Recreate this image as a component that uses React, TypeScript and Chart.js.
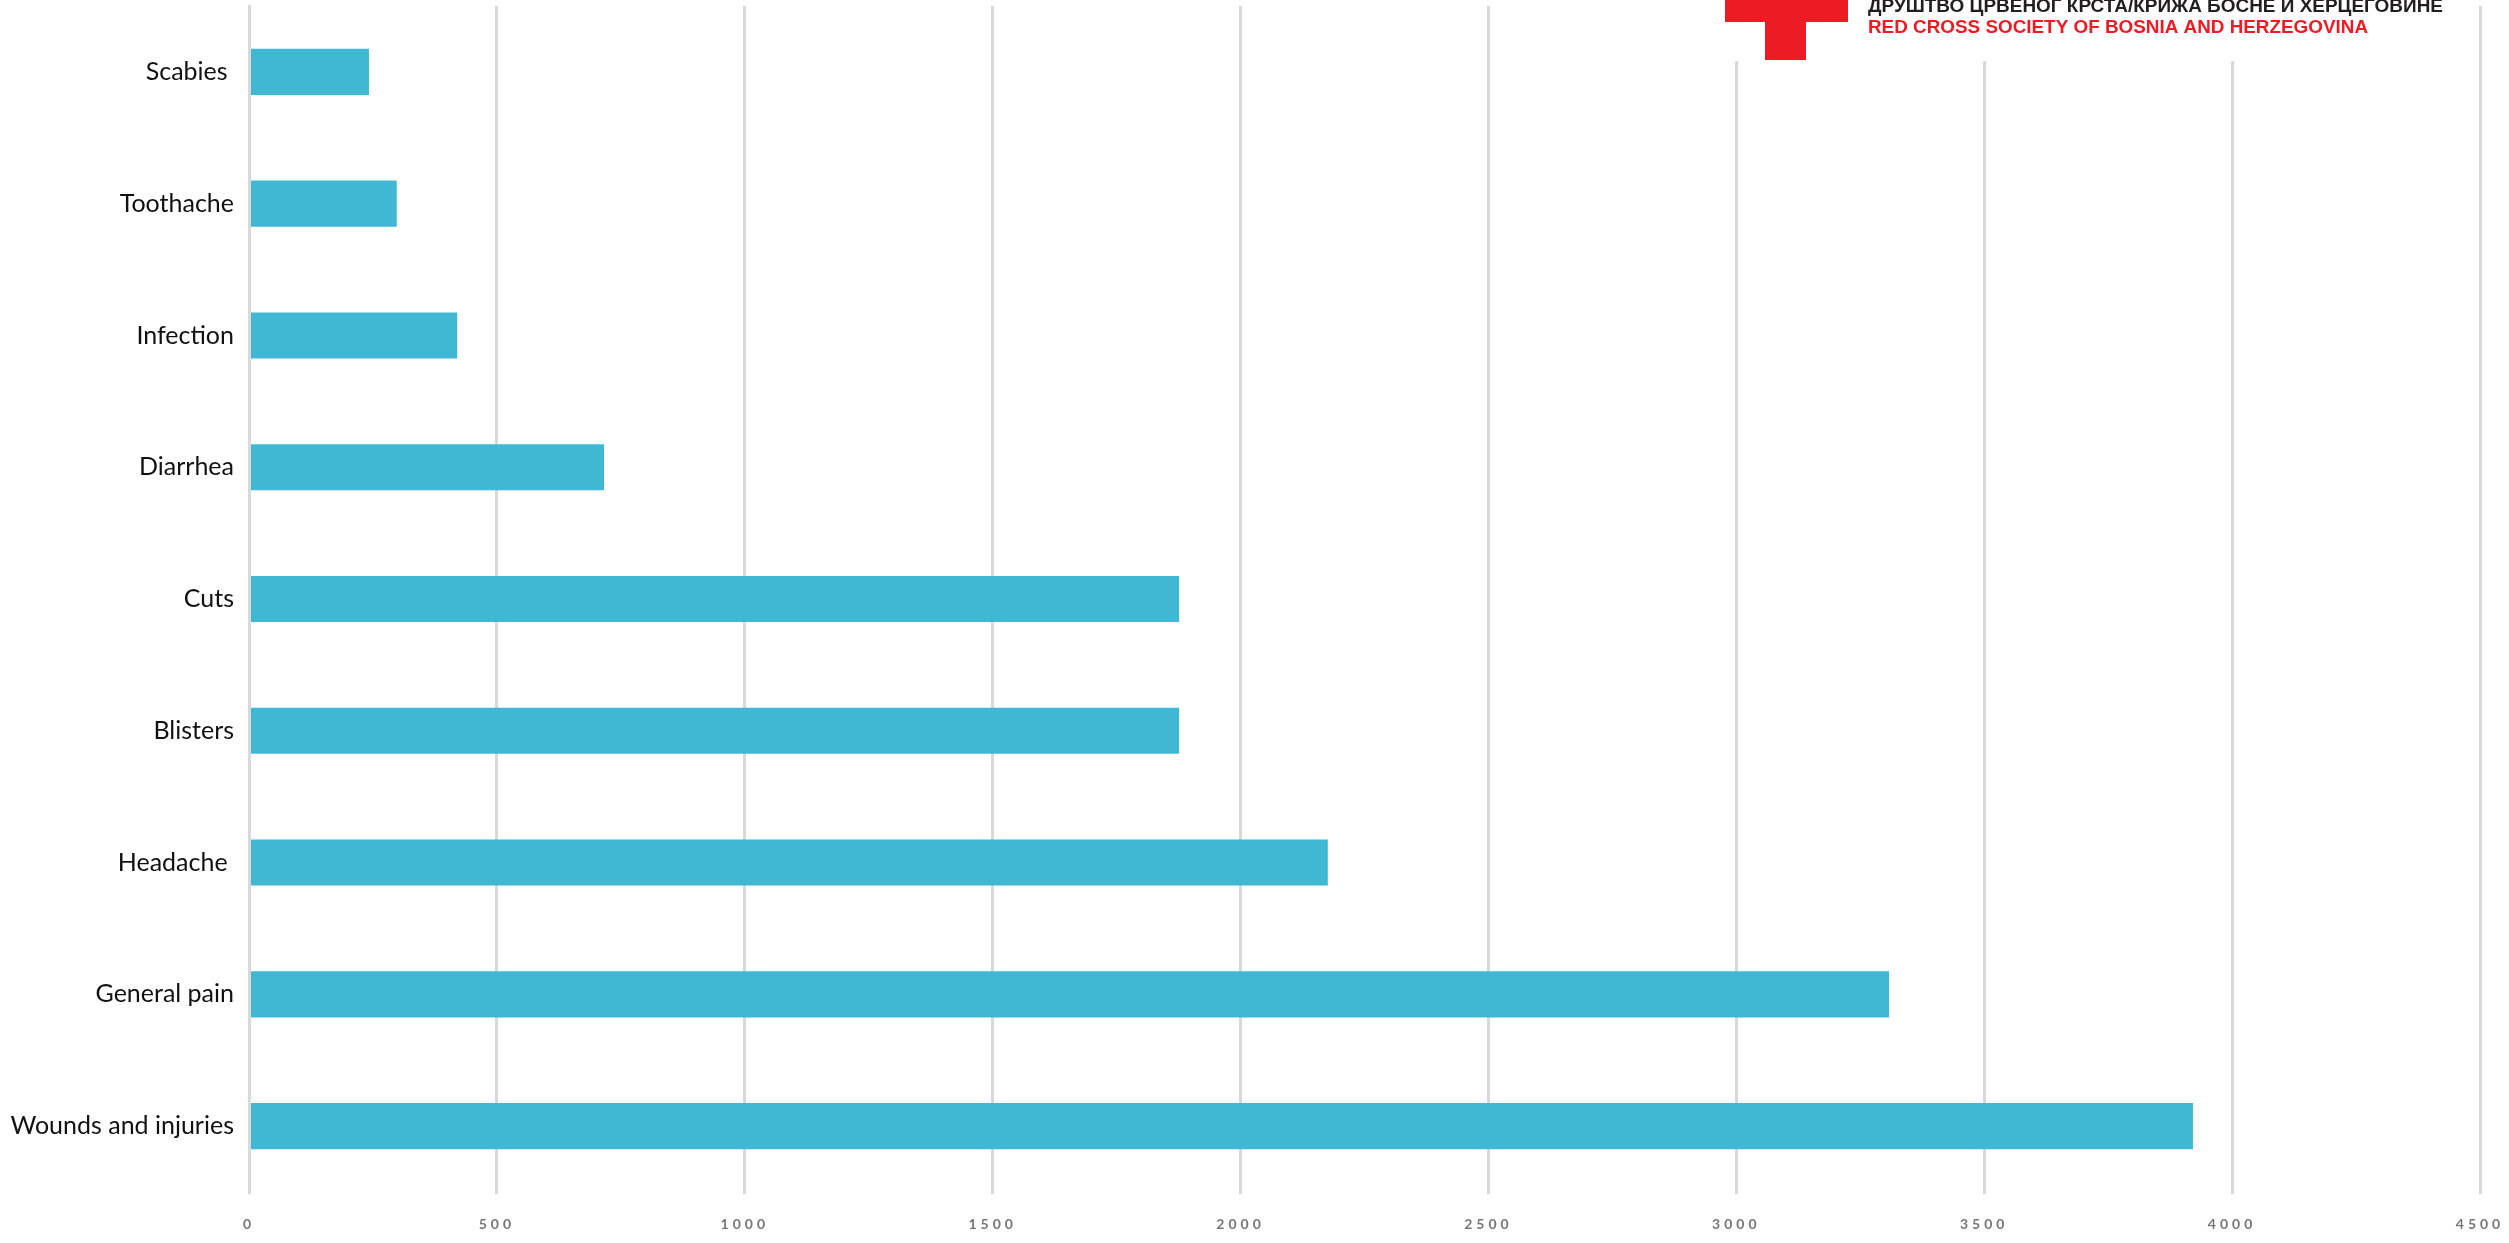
import React, { useEffect, useRef } from "react";
import { Chart, registerables } from "chart.js";

Chart.register(...registerables);

const categories = [
  "Scabies ",
  "Toothache",
  "Infection",
  "Diarrhea",
  "Cuts",
  "Blisters",
  "Headache ",
  "General pain",
  "Wounds and injuries",
];
const cases = [242, 298, 420, 716, 1876, 1876, 2176, 3308, 3921];
const xMin = 0;
const xMax = 4500;
const xStep = 500;
const logoLineCyr = "ДРУШТВО ЦРВЕНОГ КРСТА/КРИЖА БОСНЕ И ХЕРЦЕГОВИНЕ";
const logoLineEn = "RED CROSS SOCIETY OF BOSNIA AND HERZEGOVINA";

const tickSpacingPlugin = {
  id: "tickSpacing",
  beforeDraw(chart: any) {
    (chart.ctx as any).letterSpacing = "4px";
  },
  beforeDatasetsDraw(chart: any) {
    (chart.ctx as any).letterSpacing = "0px";
  },
};

const logoPlugin = {
  id: "logo",
  afterDraw(chart: any) {
    const ctx = chart.ctx as CanvasRenderingContext2D;
    ctx.save();
    (ctx as any).letterSpacing = "0px";
    ctx.fillStyle = "#ffffff";
    ctx.fillRect(1700, 0, 770, 61);
    ctx.fillStyle = "#ed1c24";
    ctx.fillRect(1725, 0, 123, 22);
    ctx.fillRect(1765, 0, 41, 60);

    const drawFit = (text: string, x: number, y: number, w: number, color: string) => {
      ctx.save();
      ctx.font = "bold 18px 'Liberation Sans', Arial, sans-serif";
      ctx.textBaseline = "alphabetic";
      ctx.textAlign = "left";
      const m = ctx.measureText(text).width;
      ctx.translate(x, y);
      ctx.scale(w / m, 1);
      ctx.fillStyle = color;
      ctx.fillText(text, 0, 0);
      ctx.restore();
    };
    drawFit(logoLineCyr, 1868, 12, 575, "#231f20");
    drawFit(logoLineEn, 1868, 33, 500, "#ed1c24");
    ctx.restore();
  },
};

export default function App() {
  const canvasRef = useRef<HTMLCanvasElement | null>(null);

  useEffect(() => {
    const canvas = canvasRef.current;
    if (!canvas) return;
    const chart = new Chart(canvas, {
      type: "bar",
      data: {
        labels: categories,
        datasets: [
          {
            label: "Cases",
            data: cases,
            backgroundColor: "#41b8d3",
            borderWidth: 0,
            barPercentage: 0.35,
            categoryPercentage: 1,
          },
        ],
      },
      options: {
        indexAxis: "y",
        animation: false,
        responsive: true,
        maintainAspectRatio: false,
        layout: { padding: { left: 0, right: 29, top: 6, bottom: 0 } },
        plugins: {
          legend: { display: false },
          tooltip: { enabled: false },
          title: { display: false },
        },
        scales: {
          x: {
            type: "linear",
            position: "bottom",
            min: xMin,
            max: xMax,
            afterFit: (scale: any) => {
              scale.height = 51;
              scale.paddingLeft = 0;
              scale.paddingRight = 0;
            },
            grid: {
              display: true,
              color: "#d9d9d9",
              lineWidth: 3,
              drawTicks: true,
              tickLength: 2,
            },
            border: { display: false },
            ticks: {
              stepSize: xStep,
              color: "#767676",
              font: { family: "Lato", size: 14, weight: "bold" },
              padding: 22,
              maxRotation: 0,
              z: 0,
              callback: (v: any) => String(v),
            },
          },
          y: {
            type: "category",
            position: "left",
            afterFit: (scale: any) => {
              scale.width = 249;
              scale.paddingTop = 0;
              scale.paddingBottom = 0;
            },
            grid: { display: false, drawTicks: false },
            border: { display: true, color: "#d9d9d9", width: 3, z: 1 },
            ticks: {
              color: "#111111",
              font: { family: "Lato", size: 25 },
              padding: 15,
              z: 1,
            },
          },
        },
      },
      plugins: [tickSpacingPlugin, logoPlugin],
    });
    return () => {
      chart.destroy();
    };
  }, []);

  return (
    <div style={{ position: "fixed", left: 0, top: 0, width: "100vw", height: "100vh", background: "#ffffff" }}>
      <canvas ref={canvasRef} />
    </div>
  );
}
